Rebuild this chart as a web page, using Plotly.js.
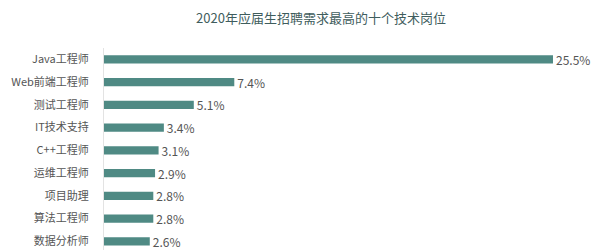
<!DOCTYPE html>
<html><head><meta charset="utf-8">
<script src="https://cdn.plot.ly/plotly-3.0.1.min.js"></script>
<style>html,body{margin:0;padding:0;background:#fff}#chart{width:600px;height:250px}</style>
</head><body><div id="chart"></div>
<script>
const categories = ["Java工程师","Web前端工程师","测试工程师","IT技术支持","C++工程师","运维工程师","项目助理","算法工程师","数据分析师"];
const values = [25.5, 7.4, 5.1, 3.4, 3.1, 2.9, 2.8, 2.8, 2.6];
const valueLabels = ["25.5%","7.4%","5.1%","3.4%","3.1%","2.9%","2.8%","2.8%","2.6%"];
const font = "'Noto Sans CJK SC', 'Noto Sans', sans-serif";
Plotly.newPlot("chart", [{
  type: "bar", orientation: "h",
  x: values, y: categories,
  text: valueLabels, textposition: "outside", cliponaxis: false, constraintext: "none",
  textfont: {size: 12, color: "#555", family: font},
  marker: {color: "#4f8a84"},
  hoverinfo: "none"
}], {
  width: 600, height: 250,
  margin: {l: 104, r: 0, t: 48, b: 0},
  paper_bgcolor: "#fff", plot_bgcolor: "#fff",
  bargap: 0.64,
  title: {text: "2020年应届生招聘需求最高的十个技术岗位", font: {size: 13, color: "#3f5d5d", family: font},
          xref: "container", x: 0.535, xanchor: "center", yref: "container", y: 0.928, yanchor: "middle"},
  xaxis: {range: [0, 28.17], visible: false, fixedrange: true},
  yaxis: {type: "category", range: [8.38, -0.5], showgrid: false, zeroline: false,
          showline: true, linecolor: "#e3e3e3", linewidth: 1, ticks: "",
          ticklabelstandoff: 12, tickfont: {size: 11, color: "#555", family: font}},
  showlegend: false
}, {staticPlot: true});
</script></body></html>
